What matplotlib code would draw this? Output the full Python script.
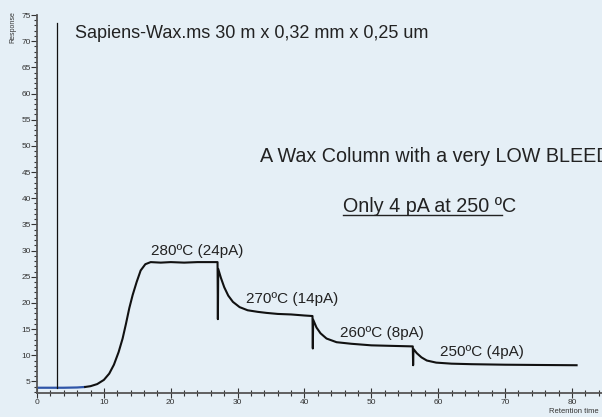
import matplotlib
matplotlib.use("Agg")
import matplotlib.pyplot as plt
from matplotlib.ticker import MultipleLocator

# --- data ---
baseline_x = [0.0, 2.0, 4.0, 6.0, 7.2]
baseline_y = [3.8, 3.8, 3.8, 3.85, 3.95]

spike_x = [2.95, 2.95]
spike_y = [3.8, 73.5]

trace_x = [7.2, 8.0, 9.0, 10.0, 10.8, 11.5, 12.2, 12.8, 13.3, 13.8, 14.3, 14.9, 15.5, 16.2, 17.0, 18.5, 20.0, 22.0,
           24.0, 26.0, 27.0,
           27.05, 27.1, 27.5, 28.0, 28.6, 29.3, 30.3, 31.5, 33.0, 34.3, 36.0, 38.0, 40.0, 41.2,
           41.25, 41.3, 41.8, 42.4, 43.3, 44.8, 47.0, 50.0, 53.0, 56.2,
           56.25, 56.3, 56.8, 57.5, 58.3, 59.7, 62.0, 65.0, 70.0, 75.0, 80.7]
trace_y = [3.95, 4.1, 4.5, 5.3, 6.5, 8.2, 10.6, 13.2, 16.0, 19.0, 21.5, 24.0, 26.2, 27.4, 27.8, 27.7, 27.8, 27.7,
           27.8, 27.8, 27.8,
           16.9, 26.5, 24.8, 23.0, 21.4, 20.2, 19.2, 18.6, 18.3, 18.1, 17.9, 17.8, 17.6, 17.5,
           11.3, 16.8, 15.3, 14.2, 13.2, 12.5, 12.2, 11.9, 11.8, 11.7,
           8.1, 11.2, 10.4, 9.6, 9.0, 8.6, 8.4, 8.3, 8.2, 8.15, 8.1]

x_major = [0, 10, 20, 30, 40, 50, 60, 70, 80]
y_major = [5, 10, 15, 20, 25, 30, 35, 40, 45, 50, 55, 60, 65, 70, 75]

title_text = "Sapiens-Wax.ms 30 m x 0,32 mm x 0,25 um"
note1 = "A Wax Column with a very LOW BLEED"
note2_under = "Only 4 pA at 250 º"
note2_rest = "C"
step_labels = ["280ºC (24pA)", "270ºC (14pA)", "260ºC (8pA)", "250ºC (4pA)"]
step_label_pos = [(17.0, 30.0), (31.2, 20.8), (45.3, 14.2), (60.3, 10.6)]

plt.rcParams['font.family'] = ['Liberation Sans', 'DejaVu Sans']

bg = '#e5eff6'
fig = plt.figure(figsize=(6.02, 4.17), dpi=100, facecolor=bg)
ax = fig.add_axes([0.0615, 0.0576, 0.9385, 0.9064])
ax.set_facecolor(bg)

ax.plot(baseline_x, baseline_y, color='#2f55a8', lw=1.6, solid_capstyle='butt')
ax.plot(spike_x, spike_y, color='#111111', lw=0.9)
ax.plot(trace_x, trace_y, color='#111111', lw=1.5)

ax.set_xlim(0, 84.5)
ax.set_ylim(2.8, 75)

for s in ['top', 'right']:
    ax.spines[s].set_visible(False)
for s in ['left', 'bottom']:
    ax.spines[s].set_color('#555555')
    ax.spines[s].set_linewidth(1.3)

ax.set_xticks(x_major)
ax.set_yticks(y_major)
ax.xaxis.set_minor_locator(MultipleLocator(2))
ax.yaxis.set_minor_locator(MultipleLocator(1))
ax.tick_params(axis='both', which='major', labelsize=6, labelcolor='#333333', color='#333333', width=0.8, pad=0.5)
ax.tick_params(axis='x', which='major', direction='inout', length=7)
ax.tick_params(axis='x', which='minor', direction='inout', length=4, color='#333333', width=0.8)
ax.tick_params(axis='y', which='major', direction='out', length=4)
ax.tick_params(axis='y', which='minor', direction='out', length=2.5, color='#333333', width=0.8)

fig.text(13 / 602, 1 - 27 / 417, "Response", rotation=90, fontsize=5, color='#333333', ha='center', va='center')
fig.text(0.912, 0.005, "Retention time", fontsize=5.5, color='#333333', ha='left', va='bottom')

fig.text(75 / 602, 1 - 33 / 417, title_text, fontsize=13, color='#222222', ha='left', va='center')
fig.text(260 / 602, 1 - 157 / 417, note1, fontsize=14.2, color='#222222', ha='left', va='center')
t2 = fig.text(343 / 602, 1 - 207 / 417, note2_under, fontsize=14.2, color='#222222', ha='left', va='center')
fig.canvas.draw()
bb = t2.get_window_extent()
x_end = bb.x1 / fig.bbox.width
fig.text(x_end, 1 - 207 / 417, note2_rest, fontsize=14.2, color='#222222', ha='left', va='center')
fig.add_artist(plt.Line2D([bb.x0 / fig.bbox.width, x_end], [(bb.y0 + 2) / fig.bbox.height] * 2,
                          color='#222222', lw=1.0, transform=fig.transFigure))

for lab, (xv, yv) in zip(step_labels, step_label_pos):
    ax.text(xv, yv, lab, fontsize=11, color='#222222', ha='left', va='center')

fig.savefig("out.png", dpi=100, facecolor=bg)
